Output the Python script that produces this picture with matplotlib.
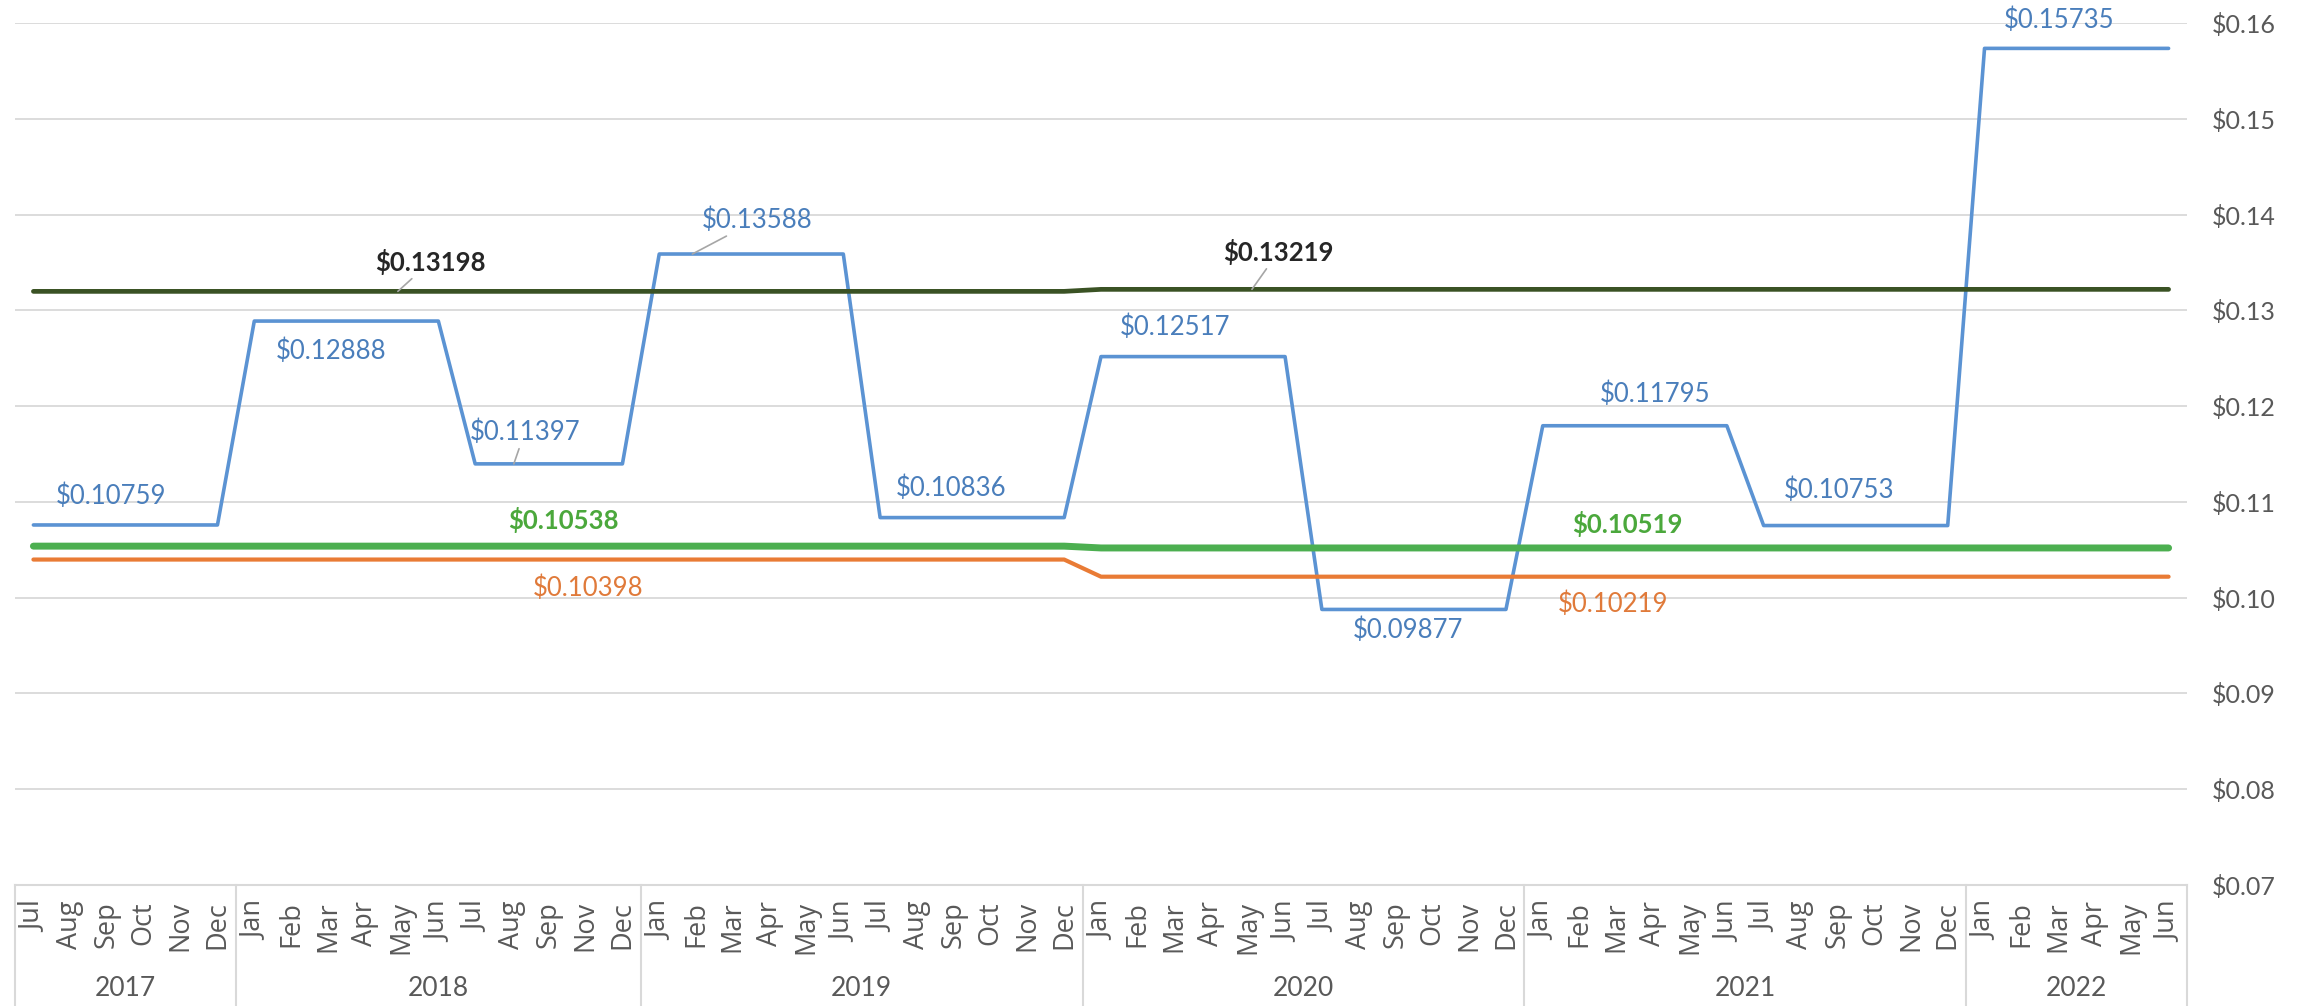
import numpy as np
import matplotlib
matplotlib.use('Agg')
import matplotlib.pyplot as plt
from matplotlib.ticker import FuncFormatter

# --- data -------------------------------------------------------------
years = ['2017', '2018', '2019', '2020', '2021', '2022']
full_year = ['Jan', 'Feb', 'Mar', 'Apr', 'May', 'Jun', 'Jul', 'Aug', 'Sep', 'Oct', 'Nov', 'Dec']
year_months = [
    ['Jul', 'Aug', 'Sep', 'Oct', 'Nov', 'Dec'],
    ['Jan', 'Feb', 'Mar', 'Apr', 'May', 'Jun', 'Jul', 'Aug', 'Sep', 'Nov', 'Dec'],  # no Oct in source
    full_year,
    full_year,
    full_year,
    ['Jan', 'Feb', 'Mar', 'Apr', 'May', 'Jun'],
]

# monthly rates ($/kWh), one value per month on the category axis
blue_rate = ([0.10759] * 6 + [0.12888] * 6 + [0.11397] * 5 + [0.13588] * 6
             + [0.10836] * 6 + [0.12517] * 6 + [0.09877] * 6 + [0.11795] * 6
             + [0.10753] * 6 + [0.15735] * 6)
dark_rate = [0.13198] * 29 + [0.13219] * 30
green_rate = [0.10538] * 29 + [0.10519] * 30
orange_rate = [0.10398] * 29 + [0.10219] * 30

# data labels: (series, value, text x, text y, leader end x or None)
labels = [
    ('blue', 0.10759, 2.1, 0.11063, None),
    ('blue', 0.12888, 8.1, 0.12576, None),
    ('blue', 0.11397, 13.35, 0.11731, 13.05),
    ('blue', 0.13588, 19.66, 0.13944, 17.9),
    ('blue', 0.10836, 24.93, 0.11146, None),
    ('blue', 0.12517, 31.0, 0.12827, None),
    ('blue', 0.09877, 37.35, 0.09664, None),
    ('blue', 0.11795, 44.04, 0.12127, None),
    ('blue', 0.10753, 49.04, 0.11125, None),
    ('blue', 0.15735, 55.02, 0.16031, None),
    ('dark', 0.13198, 10.78, 0.13505, 9.9),
    ('dark', 0.13219, 33.82, 0.13610, 33.1),
    ('green', 0.10538, 14.39, 0.10812, None),
    ('green', 0.10519, 43.3, 0.10770, None),
    ('orange', 0.10398, 15.07, 0.10102, None),
    ('orange', 0.10219, 42.9, 0.09935, None),
]

# --- style ------------------------------------------------------------
line_style = {
    'blue': dict(color='#5B93D3', lw=2.6),
    'orange': dict(color='#E97B35', lw=3.0),
    'green': dict(color='#4CAF50', lw=5.0),
    'dark': dict(color='#3A5224', lw=3.4),
}
text_style = {
    'blue': dict(color='#4A7EBB', fontweight='normal'),
    'orange': dict(color='#E07A3A', fontweight='normal'),
    'green': dict(color='#4BA83C', fontweight='bold'),
    'dark': dict(color='#262626', fontweight='bold'),
}
GRID = '#D9D9D9'
AXIS_TXT = '#595959'

W, H = 2305, 1006
L, R, T, B = 15, 2187, 23, 885  # plot area in pixels

fig = plt.figure(figsize=(W / 100, H / 100), dpi=100)
ax = fig.add_axes([L / W, 1 - B / H, (R - L) / W, (B - T) / H])

n = len(blue_rate)
x = np.arange(n)
series = {'blue': blue_rate, 'orange': orange_rate, 'green': green_rate, 'dark': dark_rate}
for key in ('blue', 'orange', 'green', 'dark'):
    ax.plot(x, series[key], solid_joinstyle='round', solid_capstyle='round', zorder=3,
            **line_style[key])

ax.set_xlim(-0.5, n - 0.5)
ax.set_ylim(0.07, 0.16)
ax.set_yticks(np.round(np.arange(0.07, 0.1601, 0.01), 2))
ax.yaxis.tick_right()
ax.yaxis.set_major_formatter(FuncFormatter(lambda v, _: f'${v:.2f}'))
ax.tick_params(axis='y', length=0, pad=18, labelsize=18, labelcolor=AXIS_TXT)
for lab in ax.get_yticklabels():
    lab.set_family('Lato')
ax.set_xticks([])
ax.grid(axis='y', color=GRID, lw=1.3)
ax.set_axisbelow(True)
for s in ax.spines.values():
    s.set_visible(False)

# --- multi-level category axis ---------------------------------------
trans = ax.get_xaxis_transform()


def yfrac(py):
    return (B - py) / (B - T)


bottom = yfrac(H)
ax.plot([-0.5, n - 0.5], [0, 0], transform=trans, color=GRID, lw=1.5, clip_on=False)
pos = 0
bounds = [-0.5]
for yr, months in zip(years, year_months):
    for k, m in enumerate(months):
        ax.text(pos + k, yfrac(901), m, rotation=90, ha='center', va='top', fontsize=19.5,
                color=AXIS_TXT, family='Open Sans', transform=trans, clip_on=False)
    ax.text(pos + (len(months) - 1) / 2, yfrac(989), yr, ha='center', va='center',
            fontsize=19, color=AXIS_TXT, family='Lato', transform=trans, clip_on=False)
    pos += len(months)
    bounds.append(pos - 0.5)
for b in bounds:
    ax.plot([b, b], [0, bottom], transform=trans, color=GRID, lw=1.5, clip_on=False)

# --- data labels ------------------------------------------------------
for key, val, tx, ty, lx in labels:
    kw = dict(ha='center', va='center', fontsize=18.5, family='Lato', zorder=5,
              annotation_clip=False, **text_style[key])
    if lx is None:
        ax.annotate(f'${val:.5f}', xy=(tx, ty), **kw)
    else:
        ax.annotate(f'${val:.5f}', xy=(lx, val), xytext=(tx, ty),
                    arrowprops=dict(arrowstyle='-', color='#A6A6A6', lw=1.2,
                                    shrinkA=1, shrinkB=0), **kw)

fig.savefig('out.png', dpi=100, facecolor='white')
